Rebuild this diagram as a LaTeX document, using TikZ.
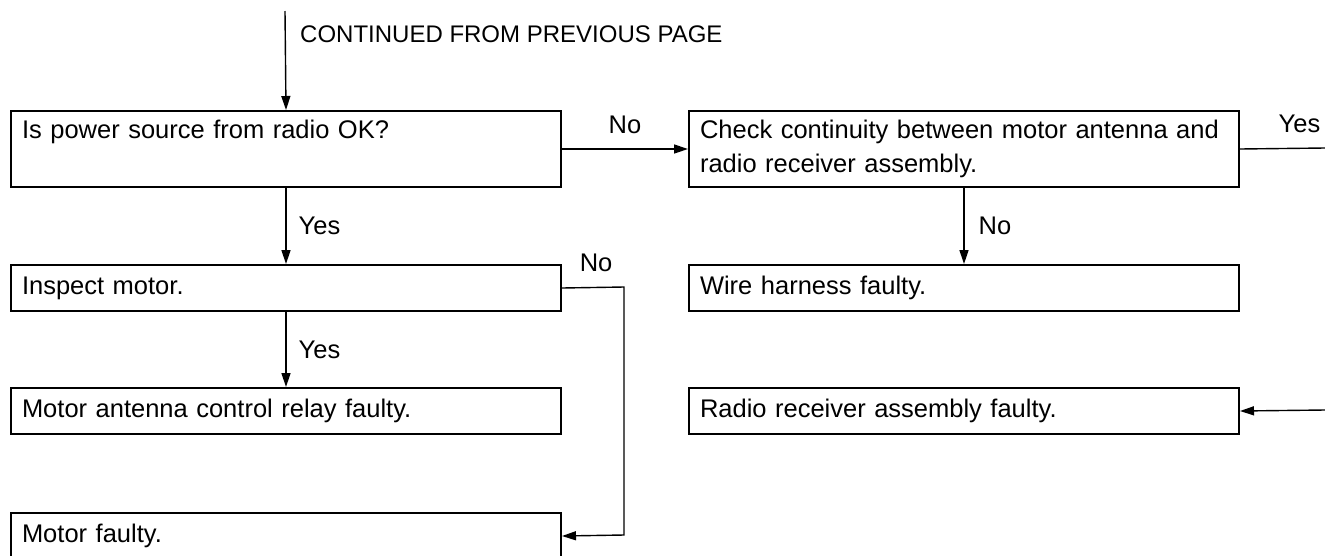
\documentclass[tikz,border=0pt]{standalone}
\usepackage{fontspec}
\setmainfont{Liberation Sans}
\usetikzlibrary{arrows.meta}
\begin{document}
\begin{tikzpicture}[x=1pt,y=-1pt,
  box/.style={draw, line width=2pt, rectangle, inner xsep=11pt, inner ysep=0pt,
    text width=528pt, minimum width=550pt, align=left, anchor=north west,
    font=\fontsize{25.5}{34}\selectfont},
  lab/.style={font=\fontsize{25.5}{28}\selectfont, inner sep=0pt},
  conn/.style={line width=1.4pt},
  arr/.style={conn, -{Triangle[length=14pt,width=9pt]}}
]
\useasboundingbox (0,0) rectangle (1325,555);
\clip (0,0) rectangle (1325,555);

\node[lab, anchor=west, font=\fontsize{24}{28}\selectfont] (cont) at (300,34) {CONTINUED FROM PREVIOUS PAGE};
\coordinate (top) at (285,11);

\node[box, minimum height=76pt] (b1) at (10,110) {\strut Is power source from radio OK?\\\strut};
\node[box, minimum height=76pt] (b2) at (688,110) {\strut Check continuity between motor antenna and\\\strut radio receiver assembly.};
\node[box, minimum height=46pt] (b3) at (10,264) {\strut Inspect motor.};
\node[box, minimum height=46pt] (b4) at (688,264) {\strut Wire harness faulty.};
\node[box, minimum height=46pt] (b5) at (10,387) {\strut Motor antenna control relay faulty.};
\node[box, minimum height=46pt] (b6) at (688,387) {\strut Radio receiver assembly faulty.};
\node[box, minimum height=46pt] (b7) at (10,512) {\strut Motor faulty.};

\coordinate (yesout) at (1325,148);
\coordinate (yesin) at (1325,410);
\coordinate (nobend1) at (624,287);
\coordinate (nobend2) at (624,535);

\draw[arr] (top) -- (b1.north);
\draw[arr] (b1.east) -- node[lab, midway, above=15pt] {No} (b2.west);
\draw[conn] (b2.east) -- node[lab, pos=0.7, above=15pt] {Yes} (yesout);
\draw[arr] (yesin) -- (b6.east);
\draw[arr] (b1.south) -- node[lab, midway, right=12pt] {Yes} (b3.north);
\draw[arr] (b3.south) -- node[lab, midway, right=12pt] {Yes} (b5.north);
\draw[arr] (b2.south) -- node[lab, midway, right=14pt] {No} (b4.north);
\draw[arr] (b3.east) -- node[lab, pos=0.55, above=15pt] {No} (nobend1) -- (nobend2) -- (b7.east);
\end{tikzpicture}
\end{document}
